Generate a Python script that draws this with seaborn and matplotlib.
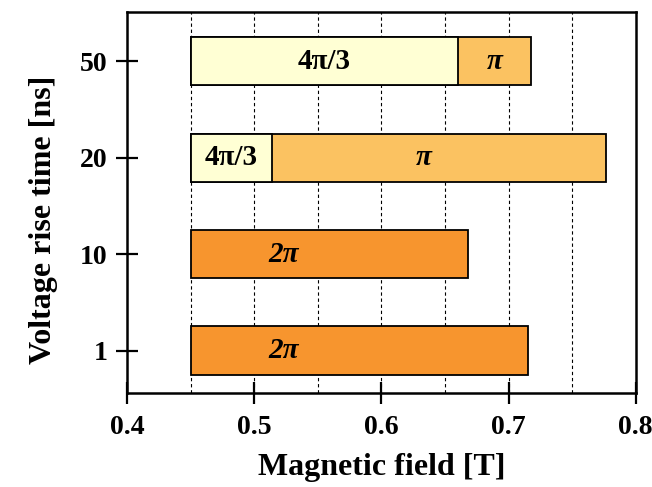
import matplotlib
matplotlib.use("Agg")
import matplotlib.pyplot as plt
import seaborn as sns
import numpy as np
import pandas as pd

# data
rise_times = ["50", "20", "10", "1"]
bar_start = 0.45
bar_end = [0.718, 0.777, 0.668, 0.715]
bar_phase = ["π", "π", "2π", "2π"]
split_times = ["50", "20"]
split_end = [0.660, 0.514]
split_phase = ["4π/3", "4π/3"]

phase_colors = {"4π/3": "#FFFFD4", "π": "#FBC261", "2π": "#F7952E"}

sns.set_theme(style="white")
plt.rcParams["font.family"] = ["Liberation Serif", "DejaVu Serif"]
plt.rcParams["font.weight"] = "bold"
plt.rcParams["text.color"] = "black"
plt.rcParams["xtick.color"] = "black"
plt.rcParams["ytick.color"] = "black"
plt.rcParams["axes.labelcolor"] = "black"

full = pd.DataFrame({"time": rise_times, "width": np.array(bar_end) - bar_start, "phase": bar_phase})
part = pd.DataFrame({"time": split_times, "width": np.array(split_end) - bar_start, "phase": split_phase})

fig = plt.figure(figsize=(6.52, 4.87), dpi=100)
ax = fig.add_axes([0.195, 0.193, 0.78, 0.782])

bar_kw = dict(x="width", y="time", hue="phase", palette=phase_colors, order=rise_times,
              left=bar_start, width=0.5, dodge=False, saturation=1,
              edgecolor="black", linewidth=1.3, legend=False, orient="y", ax=ax)
sns.barplot(data=full, **bar_kw)
sns.barplot(data=part, **bar_kw)

# segment labels
ypos = {t: i for i, t in enumerate(rise_times)}
for t, e, p in zip(split_times, split_end, split_phase):
    ax.text((bar_start + e) / 2, ypos[t], p, ha="center", va="center",
            fontsize=21, fontweight="bold")
label_x = {"50": 0.689, "20": 0.633, "10": 0.523, "1": 0.523}
for t, p in zip(rise_times, bar_phase):
    ax.text(label_x[t], ypos[t], p, ha="center", va="center", fontsize=21,
            fontweight="bold", fontstyle="italic")

ax.set_xlim(0.4, 0.8)
ax.set_ylim(3.44, -0.51)
ax.set_xticks([0.4, 0.5, 0.6, 0.7, 0.8])
ax.set_xticklabels(["0.4", "0.5", "0.6", "0.7", "0.8"])
ax.grid(False)
for gx in np.arange(0.45, 0.76, 0.05):
    ax.axvline(gx, color="black", linestyle=(0, (3, 2.5)), linewidth=0.8, zorder=0)

ax.tick_params(axis="x", direction="inout", length=16, width=1.6,
               labelsize=20, pad=8, bottom=True)
ax.tick_params(axis="y", direction="inout", length=16, width=1.6, labelsize=20,
               pad=6, left=True)
for lab in ax.get_xticklabels() + ax.get_yticklabels():
    lab.set_fontweight("bold")

for sp in ax.spines.values():
    sp.set_color("black")
    sp.set_linewidth(1.8)

ax.set_xlabel("Magnetic field [T]", fontsize=23, fontweight="bold", labelpad=9)
ax.set_ylabel("Voltage rise time [ns]", fontsize=23, fontweight="bold")
ax.yaxis.set_label_coords(-0.135, 0.454)

fig.savefig("out.png", dpi=100)
